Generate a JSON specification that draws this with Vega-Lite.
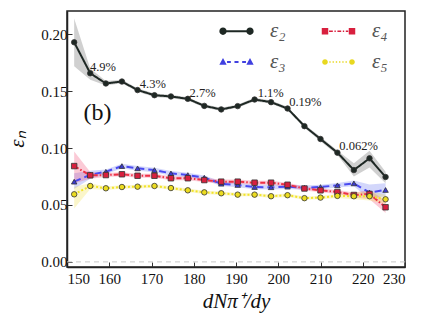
{
  "$schema": "https://vega.github.io/schema/vega-lite/v6.json",
  "autosize": "none",
  "padding": {"left": 67, "top": 11, "right": 24, "bottom": 55},
  "width": 338,
  "height": 256,
  "background": "white",
  "config": {
    "view": {"stroke": "#222", "strokeWidth": 1.5},
    "axis": {
      "labelFont": "Liberation Serif", "labelFontSize": 15, "labelColor": "#111",
      "tickSize": -5, "tickColor": "#333", "domainColor": "#222", "domainWidth": 1.5,
      "grid": false,
      "titleFont": "Liberation Serif", "titleFontStyle": "italic", "titleFontWeight": "normal", "titleFontSize": 21, "titleColor": "#111"
    },
    "axisX": {"labelPadding": 9},
    "axisY": {"labelPadding": 5}
  },
  "resolve": {"scale": {"shape": "independent", "fill": "independent"}},
  "datasets": {
    "pts": [
      {"x":151.7,"s":"ε₂","v":0.193,"lo":0.172,"hi":0.214},
      {"x":155.5,"s":"ε₂","v":0.1658,"lo":0.160,"hi":0.170},
      {"x":159.2,"s":"ε₂","v":0.1568,"lo":0.155,"hi":0.159},
      {"x":163.0,"s":"ε₂","v":0.1585,"lo":0.157,"hi":0.160},
      {"x":166.7,"s":"ε₂","v":0.151,"lo":0.1495,"hi":0.1525},
      {"x":170.7,"s":"ε₂","v":0.1465,"lo":0.145,"hi":0.148},
      {"x":174.6,"s":"ε₂","v":0.1454,"lo":0.1439,"hi":0.1469},
      {"x":178.6,"s":"ε₂","v":0.1433,"lo":0.1418,"hi":0.1448},
      {"x":182.5,"s":"ε₂","v":0.1371,"lo":0.1356,"hi":0.1386},
      {"x":186.5,"s":"ε₂","v":0.134,"lo":0.1325,"hi":0.1355},
      {"x":190.4,"s":"ε₂","v":0.1369,"lo":0.1354,"hi":0.1384},
      {"x":194.4,"s":"ε₂","v":0.1427,"lo":0.1412,"hi":0.1442},
      {"x":198.3,"s":"ε₂","v":0.1404,"lo":0.1389,"hi":0.1419},
      {"x":202.2,"s":"ε₂","v":0.1348,"lo":0.1333,"hi":0.1363},
      {"x":206.2,"s":"ε₂","v":0.1193,"lo":0.1178,"hi":0.1208},
      {"x":210.0,"s":"ε₂","v":0.108,"lo":0.106,"hi":0.110},
      {"x":214.0,"s":"ε₂","v":0.096,"lo":0.094,"hi":0.098},
      {"x":217.9,"s":"ε₂","v":0.0807,"lo":0.075,"hi":0.0866},
      {"x":221.6,"s":"ε₂","v":0.091,"lo":0.083,"hi":0.0977},
      {"x":225.4,"s":"ε₂","v":0.0746,"lo":0.069,"hi":0.0792},

      {"x":151.7,"s":"ε₃","v":0.0705,"lo":0.064,"hi":0.078},
      {"x":155.5,"s":"ε₃","v":0.0766,"lo":0.073,"hi":0.080},
      {"x":159.2,"s":"ε₃","v":0.0792,"lo":0.077,"hi":0.0812},
      {"x":163.0,"s":"ε₃","v":0.0842,"lo":0.0822,"hi":0.0862},
      {"x":166.7,"s":"ε₃","v":0.0822,"lo":0.0802,"hi":0.0842},
      {"x":170.7,"s":"ε₃","v":0.0807,"lo":0.0787,"hi":0.0827},
      {"x":174.6,"s":"ε₃","v":0.0778,"lo":0.0758,"hi":0.0798},
      {"x":178.6,"s":"ε₃","v":0.0763,"lo":0.0743,"hi":0.0783},
      {"x":182.5,"s":"ε₃","v":0.074,"lo":0.072,"hi":0.076},
      {"x":186.5,"s":"ε₃","v":0.0687,"lo":0.0667,"hi":0.0707},
      {"x":190.4,"s":"ε₃","v":0.0676,"lo":0.0656,"hi":0.0696},
      {"x":194.4,"s":"ε₃","v":0.0658,"lo":0.0638,"hi":0.0678},
      {"x":198.3,"s":"ε₃","v":0.0656,"lo":0.0636,"hi":0.0676},
      {"x":202.2,"s":"ε₃","v":0.0661,"lo":0.0641,"hi":0.0681},
      {"x":206.2,"s":"ε₃","v":0.0652,"lo":0.0632,"hi":0.0672},
      {"x":210.0,"s":"ε₃","v":0.0658,"lo":0.0638,"hi":0.0678},
      {"x":214.0,"s":"ε₃","v":0.0673,"lo":0.0653,"hi":0.0693},
      {"x":217.9,"s":"ε₃","v":0.069,"lo":0.0665,"hi":0.0715},
      {"x":221.6,"s":"ε₃","v":0.061,"lo":0.055,"hi":0.068},
      {"x":225.4,"s":"ε₃","v":0.0632,"lo":0.058,"hi":0.069},

      {"x":151.7,"s":"ε₄","v":0.0842,"lo":0.069,"hi":0.097},
      {"x":155.5,"s":"ε₄","v":0.0761,"lo":0.073,"hi":0.079},
      {"x":159.2,"s":"ε₄","v":0.0763,"lo":0.0745,"hi":0.0781},
      {"x":163.0,"s":"ε₄","v":0.077,"lo":0.0752,"hi":0.0788},
      {"x":166.7,"s":"ε₄","v":0.0757,"lo":0.0739,"hi":0.0775},
      {"x":170.7,"s":"ε₄","v":0.0757,"lo":0.0739,"hi":0.0775},
      {"x":174.6,"s":"ε₄","v":0.0735,"lo":0.0717,"hi":0.0753},
      {"x":178.6,"s":"ε₄","v":0.0735,"lo":0.0717,"hi":0.0753},
      {"x":182.5,"s":"ε₄","v":0.0719,"lo":0.0701,"hi":0.0737},
      {"x":186.5,"s":"ε₄","v":0.0705,"lo":0.0687,"hi":0.0723},
      {"x":190.4,"s":"ε₄","v":0.0705,"lo":0.0687,"hi":0.0723},
      {"x":194.4,"s":"ε₄","v":0.0696,"lo":0.0678,"hi":0.0714},
      {"x":198.3,"s":"ε₄","v":0.0696,"lo":0.0678,"hi":0.0714},
      {"x":202.2,"s":"ε₄","v":0.0678,"lo":0.066,"hi":0.0696},
      {"x":206.2,"s":"ε₄","v":0.0645,"lo":0.0627,"hi":0.0663},
      {"x":210.0,"s":"ε₄","v":0.0629,"lo":0.0611,"hi":0.0647},
      {"x":214.0,"s":"ε₄","v":0.0614,"lo":0.0596,"hi":0.0632},
      {"x":217.9,"s":"ε₄","v":0.0588,"lo":0.0565,"hi":0.061},
      {"x":221.6,"s":"ε₄","v":0.0597,"lo":0.055,"hi":0.063},
      {"x":225.4,"s":"ε₄","v":0.048,"lo":0.043,"hi":0.054},

      {"x":151.7,"s":"ε₅","v":0.0594,"lo":0.047,"hi":0.066},
      {"x":155.5,"s":"ε₅","v":0.0667,"lo":0.064,"hi":0.069},
      {"x":159.2,"s":"ε₅","v":0.0647,"lo":0.0632,"hi":0.0662},
      {"x":163.0,"s":"ε₅","v":0.0658,"lo":0.0643,"hi":0.0673},
      {"x":166.7,"s":"ε₅","v":0.0661,"lo":0.0646,"hi":0.0676},
      {"x":170.7,"s":"ε₅","v":0.0667,"lo":0.0652,"hi":0.0682},
      {"x":174.6,"s":"ε₅","v":0.0649,"lo":0.0634,"hi":0.0664},
      {"x":178.6,"s":"ε₅","v":0.0629,"lo":0.0614,"hi":0.0644},
      {"x":182.5,"s":"ε₅","v":0.0611,"lo":0.0596,"hi":0.0626},
      {"x":186.5,"s":"ε₅","v":0.0603,"lo":0.0588,"hi":0.0618},
      {"x":190.4,"s":"ε₅","v":0.0591,"lo":0.0576,"hi":0.0606},
      {"x":194.4,"s":"ε₅","v":0.0591,"lo":0.0576,"hi":0.0606},
      {"x":198.3,"s":"ε₅","v":0.0577,"lo":0.0562,"hi":0.0592},
      {"x":202.2,"s":"ε₅","v":0.0586,"lo":0.0571,"hi":0.0601},
      {"x":206.2,"s":"ε₅","v":0.056,"lo":0.0545,"hi":0.0575},
      {"x":210.0,"s":"ε₅","v":0.0565,"lo":0.055,"hi":0.058},
      {"x":214.0,"s":"ε₅","v":0.058,"lo":0.0562,"hi":0.0598},
      {"x":217.9,"s":"ε₅","v":0.0577,"lo":0.055,"hi":0.061},
      {"x":221.6,"s":"ε₅","v":0.0577,"lo":0.054,"hi":0.062},
      {"x":225.4,"s":"ε₅","v":0.055,"lo":0.051,"hi":0.059}
    ],
    "notes": [
      {"x":158.5,"y":0.1713,"t":"4.9%"},
      {"x":170.3,"y":0.156,"t":"4.3%"},
      {"x":182.1,"y":0.1485,"t":"2.7%"},
      {"x":198.2,"y":0.148,"t":"1.1%"},
      {"x":206.4,"y":0.1406,"t":"0.19%"},
      {"x":219.0,"y":0.102,"t":"0.062%"}
    ],
    "panel": [{"x":157.2,"y":0.131,"t":"(b)"}],
    "zero": [{"y": 0}]
  },
  "layer": [
    {
      "data": {"name": "zero"},
      "mark": {"type": "rule", "color": "#c8c8c8", "strokeDash": [5, 4], "strokeWidth": 1},
      "encoding": {"y": {"field": "y", "type": "quantitative"}}
    },
    {
      "data": {"name": "pts"},
      "mark": {"type": "area", "opacity": 0.28},
      "encoding": {
        "x": {"field": "x", "type": "quantitative"},
        "y": {"field": "lo", "type": "quantitative"},
        "y2": {"field": "hi"},
        "color": {"field": "s", "type": "nominal", "legend": null,
          "scale": {"range": ["#555555","#6070f0","#f0406a","#f0e040"]}}
      }
    },
    {
      "data": {"name": "pts"},
      "mark": {"type": "line", "strokeWidth": 2},
      "encoding": {
        "x": {"field": "x", "type": "quantitative"},
        "y": {"field": "v", "type": "quantitative"},
        "detail": {"field": "s"},
        "stroke": {"field": "s", "type": "nominal", "legend": null,
          "scale": {"range": ["#1e2824","#4a4af0","#ee3045","#f2e428"]}},
        "strokeDash": {"field": "s", "type": "nominal", "legend": null,
          "scale": {"range": [[1,0],[7,4],[5,2,1.5,2],[2,2]]}}
      }
    },
    {
      "data": {"name": "pts"},
      "mark": {"type": "point", "filled": true, "opacity": 1, "stroke": "#333", "strokeWidth": 0.8, "size": 30},
      "encoding": {
        "x": {"field": "x", "type": "quantitative", "title": "dNπ⁺/dy",
          "scale": {"domain": [150, 230], "nice": false, "zero": false},
          "axis": {"values": [150,160,170,180,190,200,210,220,230], "titlePadding": 4}},
        "y": {"field": "v", "type": "quantitative", "title": "εₙ",
          "scale": {"domain": [-0.0045, 0.2205], "nice": false, "zero": false},
          "axis": {"values": [0, 0.05, 0.1, 0.15, 0.2], "format": ".2f", "titlePadding": 13}},
        "shape": {"field": "s", "type": "nominal", "legend": null,
          "scale": {"range": ["circle","triangle-up","square","circle"]}},
        "fill": {"field": "s", "type": "nominal", "legend": null,
          "scale": {"range": ["#1e2824","#3a3ad0","#d8203e","#ecdc20"]}}
      }
    },
    {
      "data": {"name": "pts"},
      "transform": [{"filter": "false"}],
      "mark": {"type": "point", "filled": true, "opacity": 1},
      "encoding": {
        "x": {"field": "x", "type": "quantitative"},
        "y": {"field": "v", "type": "quantitative"},
        "shape": {"field": "s", "type": "nominal",
          "scale": {"domain": ["ε₂","ε₄","ε₃","ε₅"], "range": [
            "M-0.74,-0.075L0.74,-0.075L0.74,0.075L-0.74,0.075Z M-1.27,0A0.27,0.27 0 1,1 -0.73,0A0.27,0.27 0 1,1 -1.27,0Z M0.73,0A0.27,0.27 0 1,1 1.27,0A0.27,0.27 0 1,1 0.73,0Z",
            "M-1.24,-0.24L-0.76,-0.24L-0.76,0.24L-1.24,0.24Z M0.76,-0.24L1.24,-0.24L1.24,0.24L0.76,0.24Z M-0.7,-0.06L-0.42,-0.06L-0.42,0.06L-0.7,0.06Z M-0.3,-0.06L-0.2,-0.06L-0.2,0.06L-0.3,0.06Z M-0.08,-0.06L0.2,-0.06L0.2,0.06L-0.08,0.06Z M0.32,-0.06L0.42,-0.06L0.42,0.06L0.32,0.06Z M0.54,-0.06L0.72,-0.06L0.72,0.06L0.54,0.06Z",
            "M-1,-0.3L-0.73,0.2L-1.27,0.2Z M1,-0.3L1.27,0.2L0.73,0.2Z M-0.7,-0.07L-0.42,-0.07L-0.42,0.07L-0.7,0.07Z M-0.15,-0.07L0.15,-0.07L0.15,0.07L-0.15,0.07Z M0.42,-0.07L0.7,-0.07L0.7,0.07L0.42,0.07Z",
            "M-1.21,0A0.21,0.21 0 1,1 -0.79,0A0.21,0.21 0 1,1 -1.21,0Z M0.79,0A0.21,0.21 0 1,1 1.21,0A0.21,0.21 0 1,1 0.79,0Z M-0.68,-0.05L-0.58,-0.05L-0.58,0.05L-0.68,0.05Z M-0.44,-0.05L-0.34,-0.05L-0.34,0.05L-0.44,0.05Z M-0.2,-0.05L-0.1,-0.05L-0.1,0.05L-0.2,0.05Z M0.04,-0.05L0.14,-0.05L0.14,0.05L0.04,0.05Z M0.28,-0.05L0.38,-0.05L0.38,0.05L0.28,0.05Z M0.52,-0.05L0.62,-0.05L0.62,0.05L0.52,0.05Z"
          ]},
          "legend": {"title": null, "orient": "none", "legendX": 156, "legendY": 6.5, "columns": 2, "direction": "horizontal", "padding": 0,
            "labelFont": "Liberation Serif", "labelFontStyle": "italic", "labelFontSize": 21, "labelColor": "#555",
            "symbolSize": 729, "labelOffset": 20, "columnPadding": 35, "rowPadding": 7, "symbolStrokeWidth": 0, "symbolOpacity": 1}},
        "fill": {"field": "s", "type": "nominal",
          "scale": {"domain": ["ε₂","ε₄","ε₃","ε₅"], "range": ["#1e2824","#d8203e","#4040e0","#e8d820"]},
          "legend": {"title": null, "orient": "none", "legendX": 156, "legendY": 6.5, "columns": 2, "direction": "horizontal", "padding": 0,
            "labelFont": "Liberation Serif", "labelFontStyle": "italic", "labelFontSize": 21, "labelColor": "#555",
            "symbolSize": 729, "labelOffset": 20, "columnPadding": 35, "rowPadding": 7, "symbolStrokeWidth": 0, "symbolOpacity": 1}}
      }
    },
    {
      "data": {"name": "notes"},
      "mark": {"type": "text", "font": "Liberation Serif", "fontSize": 12.5, "color": "#222", "align": "center", "baseline": "middle"},
      "encoding": {
        "x": {"field": "x", "type": "quantitative"},
        "y": {"field": "y", "type": "quantitative"},
        "text": {"field": "t"}
      }
    },
    {
      "data": {"name": "panel"},
      "mark": {"type": "text", "font": "Liberation Serif", "fontSize": 24, "color": "#111", "align": "center", "baseline": "middle"},
      "encoding": {
        "x": {"field": "x", "type": "quantitative"},
        "y": {"field": "y", "type": "quantitative"},
        "text": {"field": "t"}
      }
    }
  ]
}
